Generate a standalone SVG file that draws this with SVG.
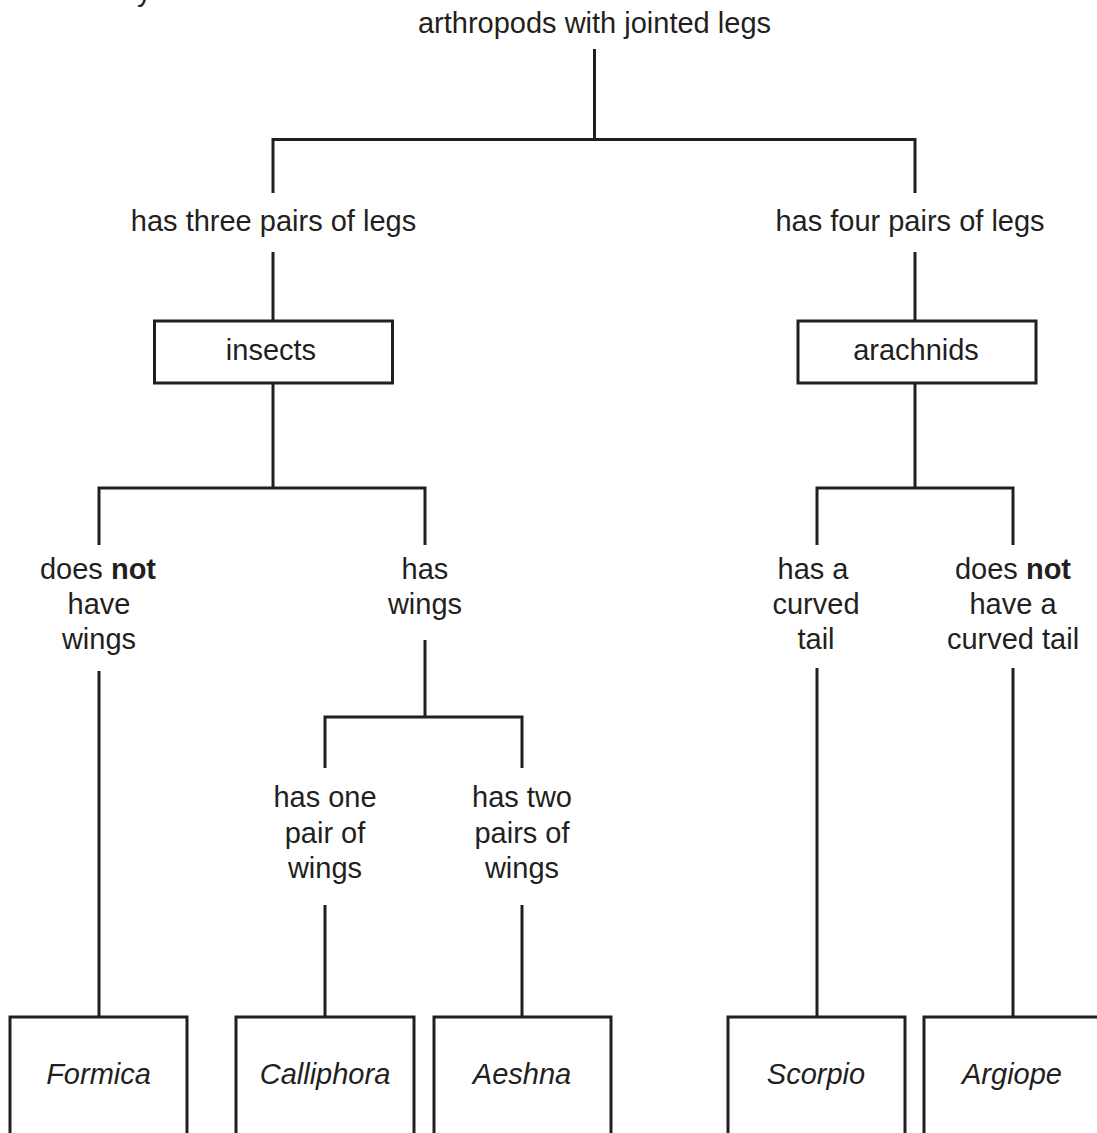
<svg xmlns="http://www.w3.org/2000/svg" width="1097" height="1133" viewBox="0 0 1097 1133">
<style>
  text { font-family: "Liberation Sans", Arial, sans-serif; font-size: 29px; fill: #231f20; text-anchor: middle; }
  .it { font-style: italic; }
  .b { font-weight: bold; }
  .box { fill: #ffffff; stroke: #231f20; stroke-width: 3; }
  .conn path { fill: none; stroke: #231f20; stroke-width: 3; stroke-linecap: butt; stroke-linejoin: miter; }
</style>
<rect width="1097" height="1133" fill="#ffffff"/>
<text x="137" y="0.5" style="text-anchor:start">y</text>
<g class="conn" id="connectors">
  <path d="M594.5 49 V139.5"/>
  <path d="M273 193 V139.5 H915 V193"/>
  <path d="M273 252 V321"/>
  <path d="M915 252 V321"/>
  <path d="M273 383 V488"/>
  <path d="M99 545 V488 H425 V545"/>
  <path d="M915 383 V488"/>
  <path d="M817 545 V488 H1013 V545"/>
  <path d="M99 671 V1017"/>
  <path d="M425 640 V717"/>
  <path d="M325 768 V717 H522 V768"/>
  <path d="M325 905 V1017"/>
  <path d="M522 905 V1017"/>
  <path d="M817 668 V1017"/>
  <path d="M1013 668 V1017"/>
</g>
<g id="root"><text x="594.5" y="33">arthropods with jointed legs</text></g>
<g id="three-pairs"><text x="273.5" y="231">has three pairs of legs</text></g>
<g id="four-pairs"><text x="910" y="231">has four pairs of legs</text></g>
<g id="insects"><rect class="box" x="154.5" y="321" width="238" height="62"/><text x="271" y="360">insects</text></g>
<g id="arachnids"><rect class="box" x="798" y="321" width="238" height="62"/><text x="916" y="360">arachnids</text></g>
<g id="no-wings"><text x="98" y="579">does <tspan class="b">not</tspan></text><text x="99" y="614">have</text><text x="99" y="649">wings</text></g>
<g id="has-wings"><text x="425" y="579">has</text><text x="425" y="614">wings</text></g>
<g id="one-pair"><text x="325" y="807">has one</text><text x="325" y="843">pair of</text><text x="325" y="878">wings</text></g>
<g id="two-pairs"><text x="522" y="807">has two</text><text x="522" y="843">pairs of</text><text x="522" y="878">wings</text></g>
<g id="curved-tail"><text x="813" y="579">has a</text><text x="816" y="614">curved</text><text x="816" y="649">tail</text></g>
<g id="no-curved-tail"><text x="1013" y="579">does <tspan class="b">not</tspan></text><text x="1013" y="614">have a</text><text x="1013" y="649">curved tail</text></g>
<g id="formica"><rect class="box" x="10" y="1017" width="177" height="140"/><text class="it" x="98.5" y="1084">Formica</text></g>
<g id="calliphora"><rect class="box" x="236" y="1017" width="178" height="140"/><text class="it" x="325" y="1084">Calliphora</text></g>
<g id="aeshna"><rect class="box" x="434" y="1017" width="177" height="140"/><text class="it" x="522" y="1084">Aeshna</text></g>
<g id="scorpio"><rect class="box" x="728" y="1017" width="177" height="140"/><text class="it" x="816" y="1084">Scorpio</text></g>
<g id="argiope"><rect class="box" x="924" y="1017" width="177" height="140"/><text class="it" x="1012" y="1084">Argiope</text></g>
</svg>
